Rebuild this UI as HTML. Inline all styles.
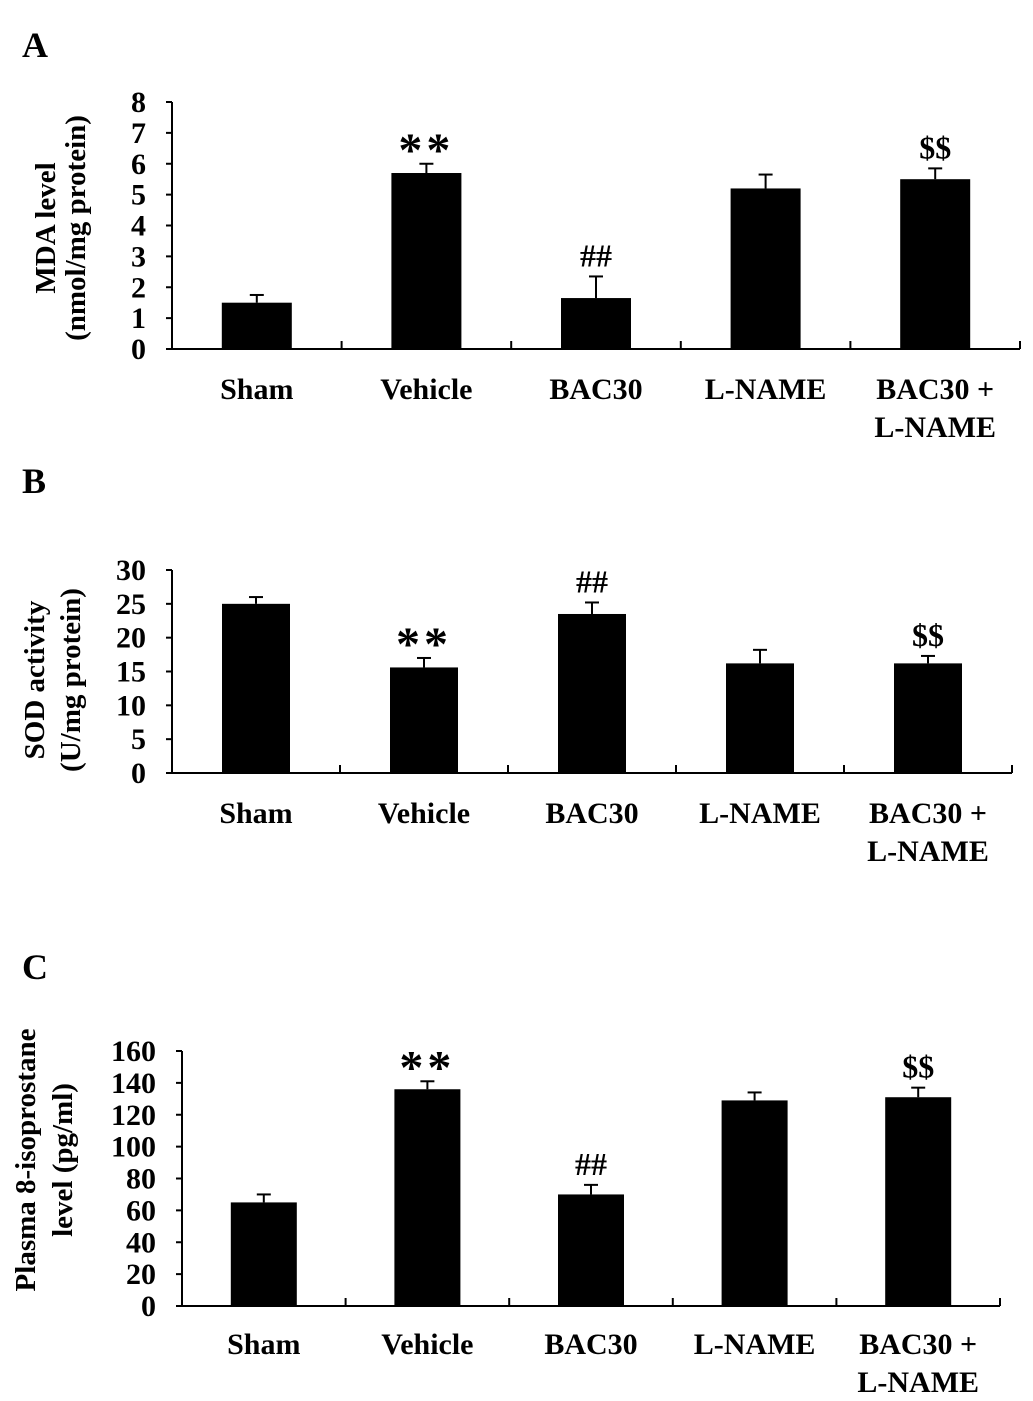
<!DOCTYPE html>
<html><head><meta charset="utf-8"><style>
body{margin:0;background:#fff;}
svg{display:block;font-family:"Liberation Serif",serif;font-weight:bold;}
</style></head><body>
<svg id="fig" width="1033" height="1401" viewBox="0 0 1033 1401"></svg>
<script>
const categories = ["Sham","Vehicle","BAC30","L-NAME","BAC30 +|L-NAME"];
const mdaValues = [1.5, 5.7, 1.65, 5.2, 5.5];
const mdaErrors = [0.25, 0.3, 0.7, 0.45, 0.35];
const mdaTicks = [0,1,2,3,4,5,6,7,8];
const mdaMarks = ["", "**", "##", "", "$$"];
const sodValues = [25, 15.6, 23.5, 16.2, 16.2];
const sodErrors = [1.0, 1.4, 1.7, 2.0, 1.1];
const sodTicks = [0,5,10,15,20,25,30];
const sodMarks = ["", "**", "##", "", "$$"];
const isoValues = [65, 136, 70, 129, 131];
const isoErrors = [5, 5, 6, 5, 6];
const isoTicks = [0,20,40,60,80,100,120,140,160];
const isoMarks = ["", "**", "##", "", "$$"];

const NS = "http://www.w3.org/2000/svg";
const svg = document.getElementById("fig");
function mk(tag, attrs, parent){const e=document.createElementNS(NS,tag);for(const k in attrs)e.setAttribute(k,attrs[k]);(parent||svg).appendChild(e);return e;}

function panel(cfg){
  const g = mk("g",{});
  
  
  const {x0,x1,yTop,yBot,max}=cfg;
  const yS = v => yBot - v/max*(yBot-yTop);
  const step = (x1-x0)/categories.length;
  const xC = i => x0 + step*(i+0.5);
  const letter = mk("text",{x:22,y:cfg.ly,"font-size":36},g);
  letter.textContent = cfg.letter;
  
  
  mk("line",{x1:x0,y1:yTop,x2:x0,y2:yBot,stroke:"#000","stroke-width":2},g);
  mk("line",{x1:x0,y1:yBot,x2:x1,y2:yBot,stroke:"#000","stroke-width":2},g);
  cfg.ticks.forEach(t=>{
    const y=yS(t);
    mk("line",{x1:x0-6,y1:y,x2:x0,y2:y,stroke:"#000","stroke-width":2},g);
    const tx=mk("text",{x:x0-26,y:y+10,"font-size":30,"text-anchor":"end"},g);
    tx.textContent=t;
    
    
  });
  for(let i=1;i<=categories.length;i++){
    const x=x0+step*i;
    mk("line",{x1:x,y1:yBot,x2:x,y2:yBot-8,stroke:"#000","stroke-width":2},g);
  }
  const bw = cfg.bw;
  cfg.values.forEach((v,i)=>{
    const cx=xC(i), top=yS(v), et=yS(v+cfg.errors[i]);
    mk("line",{x1:cx,y1:top,x2:cx,y2:et,stroke:"#000","stroke-width":2},g);
    mk("line",{x1:cx-7,y1:et,x2:cx+7,y2:et,stroke:"#000","stroke-width":2},g);
    const r=mk("rect",{x:cx-bw/2,y:top,width:bw,height:yBot-top,fill:"#000"},g);
    
    
    if(cfg.marks[i]){
      const star = cfg.marks[i]==="**";
      const m=mk("text",{x:cx,y:star?et+2:et-10,"font-size":star?48:32,"text-anchor":"middle","letter-spacing":star?4:0},g);
      m.textContent=cfg.marks[i];
      
      
    }
    categories[i].split("|").forEach((ln,j)=>{
      const t=mk("text",{x:cx,y:cfg.xly+j*38,"font-size":30,"text-anchor":"middle"},g);
      t.textContent=ln;
      
      
    });
  });
  cfg.title.forEach((ln,j)=>{
    const tx=cfg.tx[j], ty=cfg.ty;
    const t=mk("text",{x:tx,y:ty,"font-size":cfg.tfs,"text-anchor":"middle",transform:`rotate(-90 ${tx} ${ty})`},g);
    t.textContent=ln;
    
    
  });
}
panel({name:"panel-a-mda",letter:"A",ly:57,x0:172,x1:1020,yTop:102,yBot:349,max:8,bw:70,
  values:mdaValues,errors:mdaErrors,ticks:mdaTicks,marks:mdaMarks,xly:399,
  title:["MDA level","(nmol/mg  protein)"],tx:[55,85],ty:228,tfs:29});
panel({name:"panel-b-sod",letter:"B",ly:493,x0:172,x1:1012,yTop:570,yBot:773,max:30,bw:68,
  values:sodValues,errors:sodErrors,ticks:sodTicks,marks:sodMarks,xly:823,
  title:["SOD activity","(U/mg protein)"],tx:[44,80],ty:680,tfs:29});
panel({name:"panel-c-isoprostane",letter:"C",ly:979,x0:182,x1:1000,yTop:1051,yBot:1306,max:160,bw:66,
  values:isoValues,errors:isoErrors,ticks:isoTicks,marks:isoMarks,xly:1354,
  title:["Plasma  8-isoprostane","level (pg/ml)"],tx:[35,72],ty:1160,tfs:29});
</script>
</body></html>
